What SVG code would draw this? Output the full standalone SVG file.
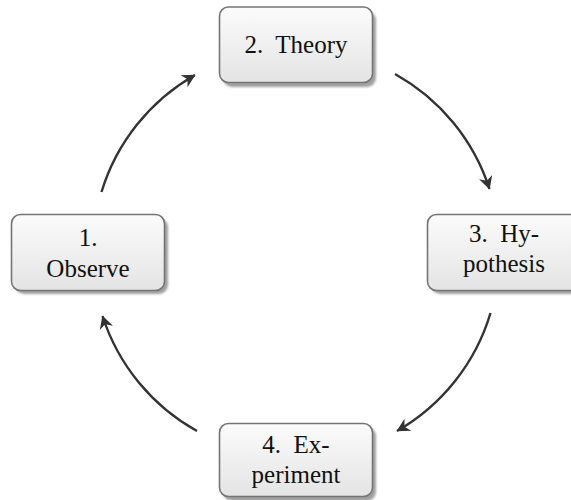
<svg xmlns="http://www.w3.org/2000/svg" width="571" height="500" viewBox="0 0 571 500">
<style>
.shadow{fill:#a0a0a0;}
.box{fill:url(#g);stroke:#757575;stroke-width:1.6;}
.t{font-family:"Liberation Serif","Times New Roman",serif;font-size:25px;fill:#111;text-anchor:middle;white-space:pre;}
.arc{fill:none;stroke:#333;stroke-width:2.4;marker-end:url(#ah);}
</style>
<defs>
<linearGradient id="g" x1="0" y1="0" x2="0" y2="1">
<stop offset="0" stop-color="#fbfbfb"/>
<stop offset="1" stop-color="#e4e4e4"/>
</linearGradient>
<filter id="blur" x="-10%" y="-10%" width="120%" height="120%"><feGaussianBlur stdDeviation="1"/></filter>
<marker id="ah" markerUnits="userSpaceOnUse" markerWidth="16" markerHeight="16" viewBox="-12 -7 14 14" refX="0" refY="0" orient="auto">
<path d="M-11,-6 L0.5,0 L-11,6 L-7.5,0 z" fill="#333"/>
</marker>
</defs>
<g id="connectors">
<path class="arc" d="M101.5,192 A203,203 0 0 1 195,75"/>
<path class="arc" d="M395,74 A203,203 0 0 1 489.5,189"/>
<path class="arc" d="M490.5,313 A203,203 0 0 1 397,431"/>
<path class="arc" d="M197,431 A203,203 0 0 1 102.5,316"/>
</g>
<g id="theory">
<rect class="shadow" x="223" y="11" width="153" height="76" rx="9" filter="url(#blur)"/>
<rect class="box" x="219.5" y="7" width="153" height="75.5" rx="9"/>
<text class="t" x="296" y="53">2.  Theory</text>
</g>
<g id="observe">
<rect class="shadow" x="15" y="218" width="153" height="76" rx="9" filter="url(#blur)"/>
<rect class="box" x="11.5" y="214.5" width="153" height="76" rx="9"/>
<text class="t" x="88" y="246">1.</text>
<text class="t" x="88" y="277">Observe</text>
</g>
<g id="hypothesis">
<rect class="shadow" x="431" y="218" width="153" height="76" rx="9" filter="url(#blur)"/>
<rect class="box" x="427.5" y="214.5" width="153" height="76" rx="9"/>
<text class="t" x="504" y="242">3.  Hy-</text>
<text class="t" x="504" y="272">pothesis</text>
</g>
<g id="experiment">
<rect class="shadow" x="223" y="427" width="153" height="74" rx="9" filter="url(#blur)"/>
<rect class="box" x="219.5" y="423.5" width="153" height="73" rx="9"/>
<text class="t" x="296" y="453">4.  Ex-</text>
<text class="t" x="296" y="483">periment</text>
</g>
</svg>
